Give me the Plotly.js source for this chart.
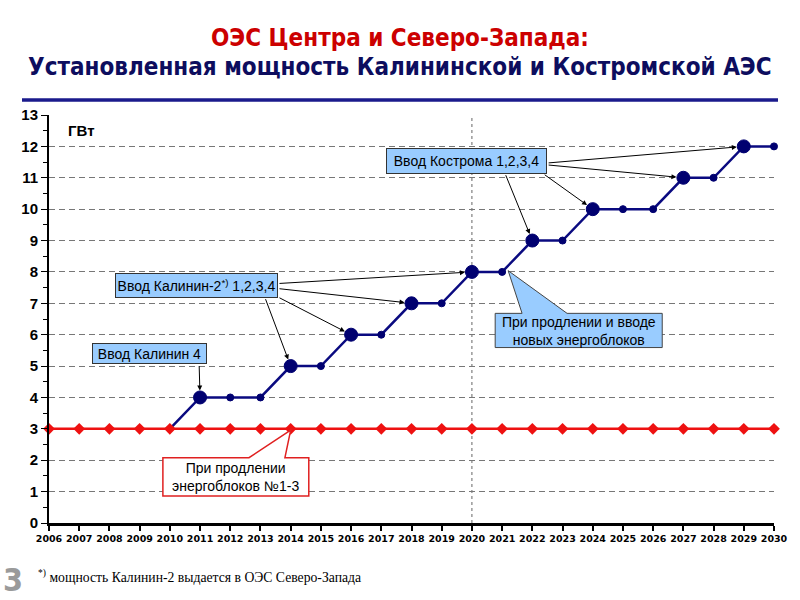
<!DOCTYPE html>
<html><head><meta charset="utf-8">
<script src="https://cdn.plot.ly/plotly-3.0.1.min.js"></script>
<style>body{margin:0;background:#fff}#chart{width:800px;height:600px}</style>
</head><body><div id="chart"></div>
<script>
const years = [2006,2007,2008,2009,2010,2011,2012,2013,2014,2015,2016,2017,2018,2019,2020,2021,2022,2023,2024,2025,2026,2027,2028,2029,2030];
const extendOnly = [3,3,3,3,3,3,3,3,3,3,3,3,3,3,3,3,3,3,3,3,3,3,3,3,3];
const extendAndNew = [null,null,null,null,3,4,4,4,5,5,6,6,7,7,8,8,9,9,10,10,10,11,11,12,12];
const newUnit = [0,0,0,0,0,1,0,0,1,0,1,0,1,0,1,0,1,0,1,0,0,1,0,1,0];
const yTicks = [0,1,2,3,4,5,6,7,8,9,10,11,12,13];

const blueSizes = newUnit.map((v,i)=> extendAndNew[i]===null ? 0 : (i===4 ? 0 : (v ? 13 : 7)));

const traces = [
  {x: years, y: extendAndNew, type:'scatter', mode:'lines+markers',
   line:{color:'#0a0a80', width:2.5},
   marker:{color:'#000070', opacity:1, size:blueSizes, line:{color:'#000070', width:1}},
   cliponaxis:false, hoverinfo:'skip'},
  {x: years, y: extendOnly, type:'scatter', mode:'lines+markers',
   line:{color:'#ee1111', width:2.5}, marker:{color:'#ee1111', opacity:1, symbol:'diamond', size:9},
   cliponaxis:false, hoverinfo:'skip'}
];

const boxFont = {family:'Liberation Sans, Arial, sans-serif', size:14, color:'#000'};
function arrow(x,y,ax,ay){
  return {x:x, y:y, ax:ax, ay:ay, xref:'x', yref:'y', axref:'x', ayref:'y', text:'',
          showarrow:true, arrowhead:2, arrowsize:1, arrowwidth:1, arrowcolor:'#000', standoff:7};
}
const idx = y => years.indexOf(y);

const annotations = [
  {xref:'paper', yref:'paper', x:0.5, y:1, xanchor:'center', yanchor:'middle', showarrow:false,
   text:'<b>ОЭС Центра и Северо-Запада:</b>', font:{family:'DejaVu Sans Condensed, DejaVu Sans, sans-serif', size:24, color:'#cc0000'}},
  {xref:'paper', yref:'paper', x:0.5, y:1, xanchor:'center', yanchor:'middle', showarrow:false,
   text:'<b>Установленная мощность Калининской и Костромской АЭС</b>', font:{family:'DejaVu Sans Condensed, DejaVu Sans, sans-serif', size:24, color:'#0d0d5e'}},
  {xref:'paper', yref:'paper', x:0, y:1, xanchor:'left', yanchor:'middle', showarrow:false,
   text:'<b>ГВт</b>', font:{family:'Liberation Sans, Arial, sans-serif', size:15, color:'#000'}},
  {x:2009.33, y:5.39, xref:'x', yref:'y', showarrow:false, text:'Ввод Калинин 4', font:boxFont,
   bgcolor:'#99ccff', bordercolor:'#333', borderwidth:1, width:111, height:17},
  {x:2010.88, y:7.58, xref:'x', yref:'y', showarrow:false, text:'Ввод Калинин-2<sup>*)</sup> 1,2,3,4', font:boxFont,
   bgcolor:'#99ccff', bordercolor:'#333', borderwidth:1, width:159, height:21},
  {x:2019.82, y:11.54, xref:'x', yref:'y', showarrow:false, text:'Ввод Кострома 1,2,3,4', font:boxFont,
   bgcolor:'#99ccff', bordercolor:'#333', borderwidth:1, width:157, height:22},
  {x:2023.53, y:6.13, xref:'x', yref:'y', showarrow:false, text:'При продлении и вводе<br>новых энергоблоков', font:boxFont},
  {x:2012.19, y:1.46, xref:'x', yref:'y', showarrow:false, text:'При продлении<br>энергоблоков №1-3', font:boxFont},
  arrow(2011, extendAndNew[idx(2011)], 2010.97, 5.05),
  arrow(2020, extendAndNew[idx(2020)], 2013.58, 7.63),
  arrow(2018, extendAndNew[idx(2018)], 2013.58, 7.47),
  arrow(2016, extendAndNew[idx(2016)], 2013.58, 7.20),
  arrow(2014, extendAndNew[idx(2014)], 2013.15, 7.18),
  arrow(2029, extendAndNew[idx(2029)], 2022.49, 11.47),
  arrow(2027, extendAndNew[idx(2027)], 2022.49, 11.41),
  arrow(2024, extendAndNew[idx(2024)], 2022.36, 11.13),
  arrow(2022, extendAndNew[idx(2022)], 2021.10, 11.13),
  {xref:'paper', yref:'paper', x:0, y:0, xanchor:'left', yanchor:'middle', showarrow:false,
   text:'<sup>*)</sup> мощность Калинин-2 выдается в ОЭС Северо-Запада', font:{family:'Liberation Serif, Times New Roman, serif', size:13.7, color:'#000'}},
  {xref:'paper', yref:'paper', x:0, y:0, xanchor:'left', yanchor:'middle', showarrow:false,
   text:'<b>3</b>', font:{family:'DejaVu Sans Condensed, DejaVu Sans, sans-serif', size:32, color:'#9a9a9a'}}
];
const layout = {
  width:800, height:600,
  margin:{l:49, r:26, t:115, b:77},
  paper_bgcolor:'#fff', plot_bgcolor:'#fff',
  showlegend:false,
  xaxis:{range:[2006,2030], tickvals:years, ticktext:years.map(String), showgrid:false, zeroline:false,
    showline:true, linecolor:'#000', linewidth:3, ticks:'outside', ticklen:5, tickwidth:2, tickcolor:'#000',
    tickfont:{family:'DejaVu Sans, sans-serif', size:9.5, color:'#000', weight:'bold'}, fixedrange:true},
  yaxis:{range:[0,13], tickvals:yTicks, showgrid:true, gridcolor:'#777', griddash:'6px,4px', gridwidth:1,
    zeroline:false, showline:true, linecolor:'#000', linewidth:2, ticks:'outside', ticklen:6, tickwidth:1, tickcolor:'#000',
    minor:{dtick:0.5, ticks:'outside', ticklen:4, tickcolor:'#000', showgrid:false},
    tickfont:{family:'Liberation Sans, Arial, sans-serif', size:15, color:'#000', weight:'bold'}, fixedrange:true},
  shapes:[
    {type:'line', xref:'paper', yref:'paper', x0:0, x1:1, y0:1, y1:1, line:{color:'#1a1a8c', width:3.5}},
    {type:'line', xref:'x', yref:'y', x0:2020, x1:2020, y0:0, y1:13, line:{color:'#666', width:1, dash:'dot'}, layer:'below'},
    {type:'path', xref:'x', yref:'y', path:'M 2009.77 0.86 L 2009.77 2.08 L 2012.62 2.08 L 2014.0 2.96 L 2013.81 2.08 L 2014.6 2.08 L 2014.6 0.86 Z',
     fillcolor:'#ffffff', line:{color:'#e02020', width:1.5}},
    {type:'path', xref:'x', yref:'y', path:'M 2020.77 5.59 L 2020.77 6.68 L 2021.66 6.68 L 2021.2 8.04 L 2023.15 6.68 L 2026.3 6.68 L 2026.3 5.59 Z',
     fillcolor:'#99ccff', line:{color:'#444', width:1}}
  ],
  annotations:annotations
};
const pw = 800-49-26, ph = 600-115-77;
function px2paperX(px){return (px-49)/pw;}
function py2paperY(py){return (523-py)/ph;}
annotations[0].x = px2paperX(400); annotations[0].y = py2paperY(38);
annotations[1].x = px2paperX(400); annotations[1].y = py2paperY(67);
annotations[2].x = px2paperX(66);  annotations[2].y = py2paperY(130);
annotations[annotations.length-2].x = px2paperX(36); annotations[annotations.length-2].y = py2paperY(576);
annotations[annotations.length-1].x = px2paperX(1); annotations[annotations.length-1].y = py2paperY(580);
layout.shapes[0].x0 = px2paperX(22); layout.shapes[0].x1 = px2paperX(778);
layout.shapes[0].y0 = layout.shapes[0].y1 = py2paperY(100);

Plotly.newPlot('chart', traces, layout, {displayModeBar:false, staticPlot:true});
</script></body></html>
